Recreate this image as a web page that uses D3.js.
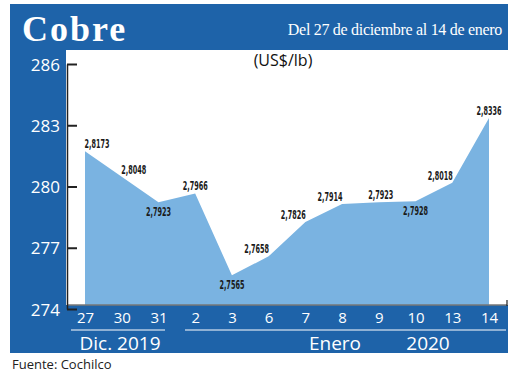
<!DOCTYPE html>
<html>
<head>
<meta charset="utf-8">
<script src="https://cdn.jsdelivr.net/npm/d3@7"></script>
<style>
  body { margin: 0; background: #fff; }
  svg { display: block; }
  .ytick text { fill: #fff; font-family: "Open Sans", "Noto Sans", sans-serif; font-size: 17px; }
  .xtick text { fill: #fff; font-family: "Open Sans", "Noto Sans", sans-serif; font-size: 15px; }
  .lbl { font-family: "DejaVu Sans Condensed", sans-serif; font-size: 12px; fill: #1a1a1a; font-weight: bold; }
</style>
</head>
<body>
<svg id="chart"></svg>
<script>
// values in US cents per lb (label shows value / 100)
const days = ["27", "30", "31", "2", "3", "6", "7", "8", "9", "10", "13", "14"];
const prices = [281.73, 280.48, 279.23, 279.66, 275.65, 276.58, 278.26, 279.14, 279.23, 279.28, 280.18, 283.36];
const labelBelow = [false, false, true, false, true, false, false, false, false, true, false, false];
const yTicks = [274, 277, 280, 283, 286];

const W = 520, H = 376;
const svg = d3.select("#chart").attr("width", W).attr("height", H);

// blue panel + white plot region
svg.append("rect").attr("x", 10).attr("y", 4).attr("width", 498).attr("height", 349).attr("fill", "#1e63a9");
svg.append("rect").attr("x", 66).attr("y", 50).attr("width", 442).attr("height", 255).attr("fill", "#fff");

const x = d3.scalePoint().domain(days).range([85, 489]);
const y = d3.scaleLinear().domain([274, 286]).range([309, 64]);

const data = days.map((d, i) => ({day: d, v: prices[i], below: labelBelow[i], i: i}));

// area
const area = d3.area()
  .x(d => x(d.day))
  .y0(305)
  .y1(d => y(d.v));

svg.append("path")
  .datum(data)
  .attr("d", area)
  .attr("fill", "#7ab3e1");

// x baseline
svg.append("line").attr("x1", 67).attr("x2", 507).attr("y1", 305).attr("y2", 305)
  .attr("stroke", "#777").attr("stroke-width", 1.5);
svg.append("line").attr("x1", 507).attr("x2", 507).attr("y1", 300).attr("y2", 306)
  .attr("stroke", "#222").attr("stroke-width", 1.2);

// y axis
const yAxis = d3.axisLeft(y).tickValues(yTicks).tickSize(-10).tickSizeOuter(0).tickPadding(18);
const ya = svg.append("g").attr("class", "ytick").attr("transform", "translate(67,0)").call(yAxis);
ya.select(".domain").attr("stroke", "#222").attr("stroke-width", 1.5);
ya.selectAll(".tick line").attr("stroke", "#222").attr("stroke-width", 2);
ya.selectAll(".tick text").attr("x", -7).attr("dy", "0.36em");

// x labels
const xAxis = d3.axisBottom(x).tickSize(0).tickPadding(0);
const xa = svg.append("g").attr("class", "xtick").attr("transform", "translate(0,311)").call(xAxis);
xa.select(".domain").remove();
xa.selectAll(".tick text").attr("dy", "0.8em");

// month rules and labels
svg.append("line").attr("x1", 71).attr("x2", 165).attr("y1", 330).attr("y2", 330).attr("stroke", "#fff").attr("stroke-width", 1);
svg.append("line").attr("x1", 185).attr("x2", 506).attr("y1", 330).attr("y2", 330).attr("stroke", "#fff").attr("stroke-width", 1);

const monthFont = "\"Open Sans\", \"Noto Sans\", sans-serif";
svg.append("text").attr("x", 120).attr("y", 350).attr("text-anchor", "middle")
  .attr("fill", "#fff").style("font-family", monthFont).style("font-size", "19px").text("Dic. 2019");
svg.append("text").attr("x", 335).attr("y", 350).attr("text-anchor", "middle")
  .attr("fill", "#fff").style("font-family", monthFont).style("font-size", "19px").text("Enero");
svg.append("text").attr("x", 428).attr("y", 350).attr("text-anchor", "middle")
  .attr("fill", "#fff").style("font-family", monthFont).style("font-size", "19px").text("2020");

// value labels: push sideways away from the slope
const fmt = v => (v / 100).toFixed(4).replace(".", ",");
function shift(d) {
  if (d.below) return 0;
  const prev = d.i > 0 ? prices[d.i - 1] : null;
  const next = d.i < prices.length - 1 ? prices[d.i + 1] : null;
  const up = prev !== null && prev < d.v;
  const downAfter = next === null || next < d.v;
  if (up && downAfter) return 0;
  if (prev !== null && next !== null && Math.abs(d.v - prev) < 0.2 && Math.abs(next - d.v) < 0.2) return 2;
  return up ? -12 : 12;
}
svg.selectAll("text.lbl")
  .data(data)
  .enter()
  .append("text")
  .attr("class", "lbl")
  .attr("x", d => x(d.day) + shift(d))
  .attr("y", d => d.below ? y(d.v) + 14 : y(d.v) - 3)
  .attr("text-anchor", "middle")
  .attr("textLength", 25)
  .attr("lengthAdjust", "spacingAndGlyphs")
  .text(d => fmt(d.v));

// titles
svg.append("text").attr("x", 22).attr("y", 41)
  .attr("fill", "#fff").style("font-family", "\"Liberation Serif\", serif").style("font-weight", "bold")
  .style("font-size", "36px").style("letter-spacing", "2px").text("Cobre");
svg.append("text").attr("x", 502).attr("y", 35).attr("text-anchor", "end")
  .attr("fill", "#fff").style("font-family", "\"Liberation Serif\", serif")
  .style("font-size", "16px").style("letter-spacing", "-0.3px")
  .text("Del 27 de diciembre al 14 de enero");
svg.append("text").attr("x", 283).attr("y", 66).attr("text-anchor", "middle")
  .attr("fill", "#111").style("font-family", monthFont).style("font-size", "16px").text("(US$/lb)");

svg.append("text").attr("x", 12).attr("y", 369)
  .attr("fill", "#222").style("font-family", monthFont).style("font-size", "13px").text("Fuente: Cochilco");
</script>
</body>
</html>
